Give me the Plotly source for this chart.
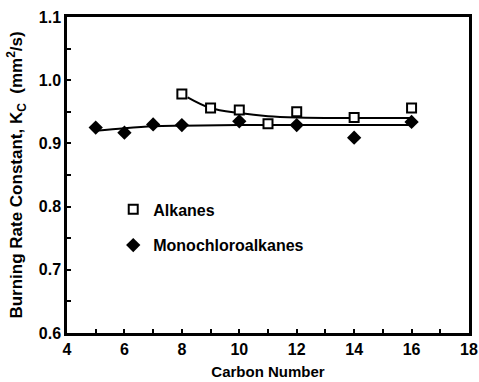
import plotly.graph_objects as go

# Data
alk_x = [8, 9, 10, 11, 12, 14, 16]
alk_y = [0.978, 0.956, 0.953, 0.931, 0.950, 0.941, 0.956]

mono_x = [5, 6, 7, 8, 10, 12, 14, 16]
mono_y = [0.925, 0.917, 0.930, 0.929, 0.935, 0.929, 0.909, 0.934]

# Fitted curves
alk_fit_x = [8.2, 9, 10, 11, 12, 14, 16]
alk_fit_y = [0.973, 0.956, 0.948, 0.943, 0.941, 0.940, 0.940]

mono_fit_x = [5, 6, 7, 8, 10, 12, 14, 16]
mono_fit_y = [0.920, 0.924, 0.927, 0.928, 0.929, 0.929, 0.929, 0.929]

x_ticks = [4, 6, 8, 10, 12, 14, 16, 18]
y_ticks = [0.6, 0.7, 0.8, 0.9, 1.0, 1.1]

FONT = "Liberation Sans, Arial, sans-serif"

fig = go.Figure()
fig.add_trace(go.Scatter(x=alk_fit_x, y=alk_fit_y, mode="lines",
                         line=dict(color="black", width=2, shape="spline", smoothing=1.0),
                         showlegend=False, hoverinfo="skip"))
fig.add_trace(go.Scatter(x=mono_fit_x, y=mono_fit_y, mode="lines",
                         line=dict(color="black", width=2, shape="spline"),
                         showlegend=False, hoverinfo="skip"))
fig.add_trace(go.Scatter(x=alk_x, y=alk_y, mode="markers", name="<b>Alkanes</b>",
                         legendgroup="a",
                         marker=dict(symbol="square", size=9, color="white",
                                     line=dict(color="black", width=2))))
fig.add_trace(go.Scatter(x=mono_x, y=mono_y, mode="markers", name="<b>Monochloroalkanes</b>",
                         legendgroup="m",
                         marker=dict(symbol="diamond", size=11, color="black",
                                     line=dict(color="black", width=0))))

fig.update_layout(
    width=479, height=382,
    margin=dict(l=67, r=10, t=17, b=49),
    paper_bgcolor="white", plot_bgcolor="white",
    font=dict(family=FONT, color="black", size=16),
    legend=dict(x=0.115, y=0.445, xanchor="left", yanchor="top",
                bgcolor="rgba(0,0,0,0)", traceorder="grouped",
                tracegroupgap=12,
                font=dict(family=FONT, size=16, color="black"),
                itemwidth=30),
    xaxis=dict(range=[4, 18], tickvals=x_ticks,
               ticktext=[f"<b>{v}</b>" for v in x_ticks],
               ticks="inside", ticklen=4, tickwidth=2, tickcolor="black",
               minor=dict(dtick=1, ticks="inside", ticklen=4, tickwidth=2, tickcolor="black"),
               showline=True, linecolor="black", linewidth=2.5, mirror=True,
               showgrid=False, zeroline=False, automargin=False,
               ticklabeloverflow="allow",
               tickfont=dict(family=FONT, size=16, color="black"),
               title=dict(text="<b>Carbon Number</b>", standoff=10,
                          font=dict(family=FONT, size=15, color="black"))),
    yaxis=dict(range=[0.6, 1.1], tickvals=y_ticks,
               ticktext=[f"<b>{v:.1f}</b>" for v in y_ticks],
               ticks="inside", ticklen=4, tickwidth=2, tickcolor="black",
               minor=dict(dtick=0.05, ticks="inside", ticklen=4, tickwidth=2, tickcolor="black"),
               showline=True, linecolor="black", linewidth=2.5, mirror=True,
               showgrid=False, zeroline=False, automargin=False,
               ticklabeloverflow="allow",
               tickfont=dict(family=FONT, size=16, color="black"),
               title=dict(text="<b>Burning Rate Constant, K<sub>C</sub>  (mm<sup>2</sup>/s)</b>",
                          standoff=12,
                          font=dict(family=FONT, size=17, color="black"))),
)

fig.write_html("out.html", config={"displayModeBar": False},
               post_script="document.body.style.margin='0';document.body.style.overflow='hidden';")
